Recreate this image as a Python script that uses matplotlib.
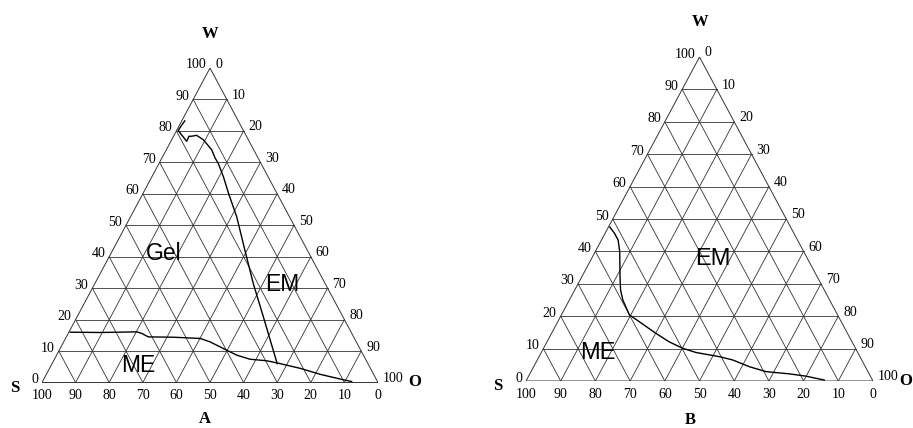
import matplotlib
matplotlib.use("Agg")
import matplotlib.pyplot as plt
import numpy as np

# ---------------- data (ternary compositions, % W and % O) ----------------
ticks = [0, 10, 20, 30, 40, 50, 60, 70, 80, 90, 100]

# Chart A: Gel / EM boundary
A_gel_W = [83.2, 81.5, 80.1, 76.7, 78.3, 78.3, 78.6, 77.2, 74.0, 71.4, 69.7, 65.4, 60.2, 52.7, 42.0, 31.4, 20.8, 6.0]
A_gel_O = [0.9, 0.6, 0.5, 4.7, 4.6, 5.4, 6.7, 9.4, 13.5, 15.8, 17.6, 21.3, 25.4, 31.6, 39.4, 47.2, 55.5, 67.0]
# Chart A: ME boundary
A_me_W = [16.0, 15.9, 16.1, 15.6, 14.5, 14.4, 14.0, 12.9, 10.8, 8.7, 7.4, 6.9, 6.0, 4.5, 2.6, 1.1, 0.3]
A_me_O = [0.4, 9.4, 20.2, 21.9, 24.4, 31.9, 40.1, 43.6, 48.6, 53.6, 58.2, 63.5, 67.9, 74.6, 81.5, 88.2, 92.0]

# Chart B: ME / EM boundary
B_W = [47.5, 45.6, 43.5, 40.0, 36.3, 32.2, 28.1, 25.0, 20.4, 18.3, 14.7, 12.1, 10.1, 8.8, 7.5, 6.5, 4.4, 2.9, 2.2, 1.5, 0.3]
B_O = [0.4, 2.7, 4.8, 7.0, 8.9, 11.0, 13.2, 15.4, 19.6, 23.5, 30.1, 35.2, 40.1, 44.6, 52.0, 56.3, 62.2, 67.7, 74.8, 79.9, 85.8]

# ---------------- helpers ----------------
def tern(w, o):
    w = np.asarray(w, float) / 100.0
    o = np.asarray(o, float) / 100.0
    return o + w / 2.0, w

GRID_C = "#333333"
PX = 0.72  # points per pixel at dpi 100


def draw_triangle(ax, regions, corner_pos, bottom_letter, fs_region):
    # outer triangle
    x, y = tern([0, 0, 100, 0], [0, 100, 0, 0])
    ax.plot(x, y, color=GRID_C, lw=0.7, solid_joinstyle="miter")
    for t in ticks[1:-1]:
        # constant W
        x, y = tern([t, t], [0, 100 - t])
        ax.plot(x, y, color=GRID_C, lw=0.6)
        # constant O
        x, y = tern([0, 100 - t], [t, t])
        ax.plot(x, y, color=GRID_C, lw=0.6)
        # constant S
        s = t
        x, y = tern([0, 100 - s], [100 - s, 0])
        ax.plot(x, y, color=GRID_C, lw=0.6)

    tfont = dict(family="Liberation Serif", fontsize=10, color="black")
    for t in ticks:
        # left edge: W %
        x, y = tern(t, 0)
        ax.annotate(str(t), (x, y), xytext=(-4 * PX, 3 * PX), textcoords="offset points",
                    ha="right", va="center", annotation_clip=False, **tfont)
        # right edge: O %
        x, y = tern(100 - t, t)
        ax.annotate(str(t), (x, y), xytext=(5 * PX, 4 * PX), textcoords="offset points",
                    ha="left", va="center", annotation_clip=False, **tfont)
        # bottom: S %
        x, y = tern(0, 100 - t)
        ax.annotate(str(t), (x, y), xytext=(0, -13 * PX), textcoords="offset points",
                    ha="center", va="center", annotation_clip=False, **tfont)

    lfont = dict(family="Liberation Serif", fontsize=12, fontweight="bold", color="black")
    for lab, (lx, ly) in corner_pos.items():
        ax.text(lx, ly, lab, ha="center", va="center", clip_on=False, **lfont)
    ax.text(bottom_letter[1], bottom_letter[2], bottom_letter[0], ha="center", va="center",
            clip_on=False, **lfont)
    for lab, (rx, ry) in regions:
        ax.text(rx, ry, lab, ha="center", va="center", family="Liberation Sans",
                fontsize=fs_region, color="black", clip_on=False)

    ax.set_xlim(0, 1)
    ax.set_ylim(0, 1)
    ax.axis("off")


fig = plt.figure(figsize=(9.13, 4.28), dpi=100)
fig.patch.set_facecolor("white")

W_FIG, H_FIG = 913.0, 428.0
# Chart A axes (triangle corners S(42,382.5) O(378,382.5) W(210,68))
axA = fig.add_axes([42 / W_FIG, (H_FIG - 382.5) / H_FIG, 336 / W_FIG, 314.5 / H_FIG])
axA.patch.set_alpha(0)
# Chart B axes (triangle corners S(526,381) O(873,381) W(700,57))
axB = fig.add_axes([526 / W_FIG, (H_FIG - 381) / H_FIG, 347 / W_FIG, 324 / H_FIG])
axB.patch.set_alpha(0)

draw_triangle(axA,
              [("Gel", (0.363, 0.409)), ("EM", (0.714, 0.313)), ("ME", (0.286, 0.053))],
              {"W": (0.5, 1.108), "S": (-0.080, -0.018), "O": (1.110, 0.002)},
              ("A", 0.485, -0.116), 16.5)
draw_triangle(axB,
              [("EM", (0.538, 0.377)), ("ME", (0.207, 0.087))],
              {"W": (0.501, 1.108), "S": (-0.082, -0.015), "O": (1.095, 0.0)},
              ("B", 0.473, -0.12), 17)

x, y = tern(A_gel_W, A_gel_O)
axA.plot(x, y, color="black", lw=1.0, clip_on=False)
x, y = tern(A_me_W, A_me_O)
axA.plot(x, y, color="black", lw=1.0, clip_on=False)
x, y = tern(B_W, B_O)
axB.plot(x, y, color="black", lw=1.0, clip_on=False)

fig.savefig("out.png", dpi=100)
